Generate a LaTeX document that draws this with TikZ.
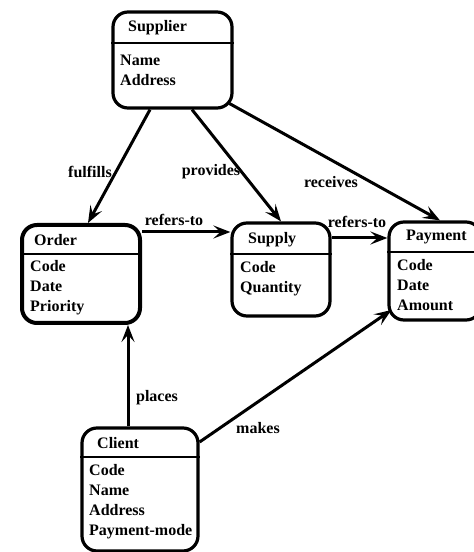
\documentclass[tikz,border=0pt]{standalone}
\usepackage{fontspec}
\setmainfont{Liberation Serif}
\usetikzlibrary{arrows.meta}

\tikzset{
  entity/.style={draw, line width=3.2pt, rounded corners=15pt, inner sep=0pt},
  headline/.style={line width=2.2pt},
  attr/.style={anchor=west, inner sep=0pt, align=left, font=\fontsize{16}{20}\selectfont\bfseries},
  link/.style={line width=3pt, -{Stealth[length=17pt,width=13pt,inset=7pt]}},
  lbl/.style={inner sep=0pt, font=\fontsize{16}{20}\selectfont\bfseries}
}

\begin{document}
\begin{tikzpicture}[x=1pt,y=1pt]
  \useasboundingbox (0,0) rectangle (474,552);
  \clip (0,0) rectangle (474,552);
  % entities
  \node[entity, minimum width=119pt, minimum height=96pt] (supplier) at (172.5,492) {};
  \node[entity, minimum width=118pt, minimum height=98pt, line width=4pt] (order) at (81,278) {};
  \node[entity, minimum width=98pt, minimum height=93pt] (supply) at (281,282.5) {};
  \node[entity, minimum width=92pt, minimum height=98pt] (payment) at (435,281) {};
  \node[entity, minimum width=116pt, minimum height=123pt] (client) at (140,62.5) {};
  \draw[headline] ([yshift=17pt]supplier.west) -- ([yshift=17pt]supplier.east);
  \draw[headline] ([yshift=20pt]order.west) -- ([yshift=20pt]order.east);
  \draw[headline] ([yshift=15.5pt]supply.west) -- ([yshift=15.5pt]supply.east);
  \draw[headline] ([yshift=19pt]payment.west) -- ([yshift=19pt]payment.east);
  \draw[headline] ([yshift=32.5pt]client.west) -- ([yshift=32.5pt]client.east);
  % titles and attributes
  \node[attr] (suppliername) at (128,524) {Supplier};
  \node[attr] (supplierattr) at (120,481.5) {Name\\Address};
  \node[attr] (ordername) at (34,312) {Order};
  \node[attr] (orderattr) at (30,264.5) {Code\\Date\\Priority};
  \node[attr] (supplyname) at (248,312) {Supply};
  \node[attr] (supplyattr) at (240,273) {Code\\Quantity};
  \node[attr] (paymentname) at (406,315) {Payment};
  \node[attr] (paymentattr) at (397,266.5) {Code\\Date\\Amount};
  \node[attr] (clientname) at (97,109) {Client};
  \node[attr] (clientattr) at (89,50) {Code\\Name\\Address\\Payment-mode};
  % relationships
  \draw[link] ([xshift=-22.5pt]supplier.south) -- ([xshift=7pt]order.north);
  \draw[link] ([xshift=19.5pt]supplier.south) -- (supply.north);
  \draw[link] ([xshift=-4pt,yshift=6pt]supplier.south east) -- ([xshift=5pt]payment.north);
  \draw[link] ([yshift=42pt]order.east) -- ([yshift=42pt]order.east -| supply.west);
  \draw[link] ([yshift=31.5pt]supply.east) -- ([yshift=31.5pt]supply.east -| payment.west);
  \draw[link] ([xshift=-12pt]client.north) -- ([xshift=-12pt]client.north |- order.south);
  \draw[link] ([yshift=47.5pt]client.east) -- ([xshift=4pt,yshift=-39pt]payment.west);
  % labels
  \node[lbl] (fulfills) at (90,380) {fulfills};
  \node[lbl] (provides) at (211,380) {provides};
  \node[lbl] (receives) at (331,370) {receives};
  \node[lbl] (refersA) at (174,332) {refers-to};
  \node[lbl] (refersB) at (357,330) {refers-to};
  \node[lbl] (places) at (157,154) {places};
  \node[lbl] (makes) at (258,124) {makes};
\end{tikzpicture}
\end{document}
